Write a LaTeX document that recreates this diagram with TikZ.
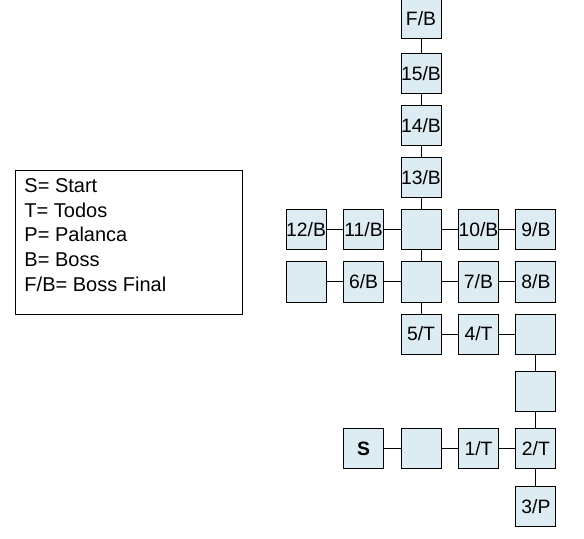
\documentclass[tikz,border=0pt]{standalone}
\usepackage{fontspec}
\setmainfont{Liberation Sans}
\usepackage {tikz}
\usetikzlibrary {positioning}
\definecolor{roomblue}{RGB}{221,235,242}

\begin{document}
\begin{tikzpicture}[auto ,node distance = 39pt and 43.1pt ,on grid, line width=0.75pt,
      room/.style={rectangle, fill=roomblue, draw=black, minimum size=30pt, inner sep=0pt, font=\fontsize{14.5pt}{16pt}\selectfont},
      legendbox/.style={rectangle, draw=black, minimum width=170pt, minimum height=108pt, anchor=north west}]
			 \useasboundingbox (-315.75pt,-231pt) rectangle (122.25pt,172.5pt);
			 % centre column
			 \node [room] (C1) {};
			 \node [room] (B13) [above =of C1] {13/B};
			 \node [room] (B14) [above =of B13] {14/B};
			 \node [room] (B15) [above =of B14] {15/B};
			 \node [room] (FB) [above =41.25pt of B15] {F/B};
			 \node [room] (B11) [left =of C1] {11/B};
			 \node [room] (B12) [left =of B11] {12/B};
			 \node [room] (B10) [right =of C1] {10/B};
			 \node [room] (B9) [right =of B10] {9/B};
			 \node [room] (C2) [below =of C1] {};
			 \node [room] (B6) [left =of C2] {6/B};
			 \node [room] (E1) [left =of B6] {};
			 \node [room] (B7) [right =of C2] {7/B};
			 \node [room] (B8) [right =of B7] {8/B};
			 \node [room] (T5) [below =of C2] {5/T};
			 \node [room] (T4) [right =of T5] {4/T};
			 \node [room] (E2) [right =of T4] {};
			 % bottom part
			 \node [room] (E3) [below =43.1pt of E2] {};
			 \node [room] (T2) [below =43.1pt of E3] {2/T};
			 \node [room] (P3) [below =43.1pt of T2] {3/P};
			 \node [room] (T1) [left =of T2] {1/T};
			 \node [room] (E4) [left =of T1] {};
			 \node [room] (S) [left =of E4] {\textbf{S}};
			 % legend
			 \node [legendbox] (legend) at (-304.5pt,45pt) {};
			 \node [anchor=north west, align=left, inner sep=0pt, font=\fontsize{15pt}{18.5pt}\selectfont] (legendtext) at ([xshift=6.75pt, yshift=-6pt]legend.north west) {S= Start\\T= Todos\\P= Palanca\\B= Boss\\F/B= Boss Final};
			 \path (FB) edge (B15);
			 \path (B15) edge (B14);
			 \path (B14) edge (B13);
			 \path (B13) edge (C1);
			 \path (B12) edge (B11);
			 \path (B11) edge (C1);
			 \path (C1) edge (B10);
			 \path (B10) edge (B9);
			 \path (C1) edge (C2);
			 \path (E1) edge (B6);
			 \path (B6) edge (C2);
			 \path (C2) edge (B7);
			 \path (B7) edge (B8);
			 \path (C2) edge (T5);
			 \path (T5) edge (T4);
			 \path (T4) edge (E2);
			 \path (E2) edge (E3);
			 \path (E3) edge (T2);
			 \path (T2) edge (P3);
			 \path (S) edge (E4);
			 \path (E4) edge (T1);
			 \path (T1) edge (T2);
		\end{tikzpicture}
\end{document}
